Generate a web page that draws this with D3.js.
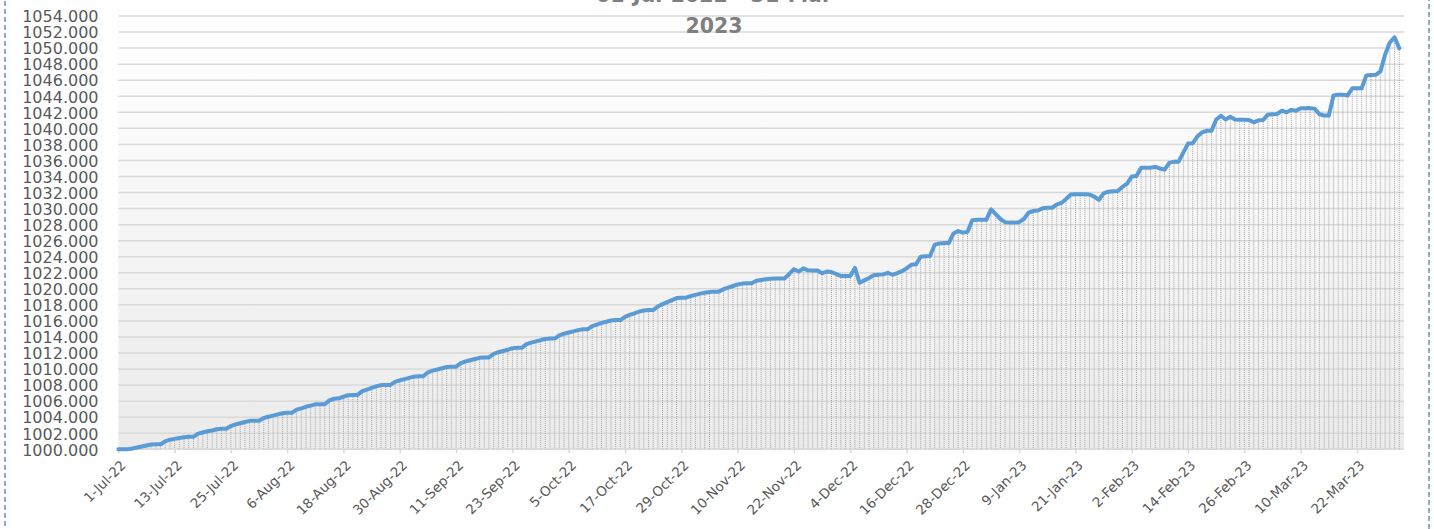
<!DOCTYPE html>
<html>
<head>
<meta charset="utf-8">
<script src="https://cdn.jsdelivr.net/npm/d3@7"></script>
<style>
  html, body { margin: 0; padding: 0; background: #ffffff; }
  svg { display: block; }
</style>
</head>
<body>
<svg id="chart" width="1434" height="529"></svg>
<script>
// ---------------- DATA ----------------
const titleLines = ["01-Jul-2022 - 31-Mar", "2023"];
const startDate = "1-Jul-22";   // first category, one value per day
const endDate = "31-Mar-23";
const tickLabels = ["1-Jul-22","13-Jul-22","25-Jul-22","6-Aug-22","18-Aug-22","30-Aug-22",
  "11-Sep-22","23-Sep-22","5-Oct-22","17-Oct-22","29-Oct-22","10-Nov-22","22-Nov-22",
  "4-Dec-22","16-Dec-22","28-Dec-22","9-Jan-23","21-Jan-23","2-Feb-23","14-Feb-23",
  "26-Feb-23","10-Mar-23","22-Mar-23"];
const yTicks = [1000,1002,1004,1006,1008,1010,1012,1014,1016,1018,1020,1022,1024,1026,
  1028,1030,1032,1034,1036,1038,1040,1042,1044,1046,1048,1050,1052,1054];
const values = [
  // Jul 2022
  1000.00,1000.00,1000.00,1000.10,1000.22,1000.35,1000.48,1000.60,1000.62,1000.62,
  1001.00,1001.20,1001.30,1001.40,1001.50,1001.55,1001.55,1001.95,1002.10,1002.25,
  1002.35,1002.50,1002.55,1002.55,1002.90,1003.10,1003.25,1003.40,1003.55,1003.55,
  1003.55,
  // Aug 2022
  1003.90,1004.05,1004.20,1004.35,1004.50,1004.55,1004.55,1004.95,1005.10,1005.30,
  1005.45,1005.60,1005.62,1005.62,1006.10,1006.30,1006.35,1006.55,1006.75,1006.78,
  1006.78,1007.25,1007.45,1007.65,1007.85,1008.00,1008.02,1008.02,1008.40,1008.60,
  1008.75,
  // Sep 2022
  1008.90,1009.05,1009.10,1009.10,1009.60,1009.80,1009.95,1010.10,1010.25,1010.30,
  1010.30,1010.75,1010.95,1011.10,1011.25,1011.40,1011.45,1011.45,1011.90,1012.10,
  1012.25,1012.40,1012.60,1012.65,1012.65,1013.10,1013.30,1013.45,1013.60,1013.75,
  // Oct 2022
  1013.80,1013.80,1014.20,1014.40,1014.55,1014.70,1014.85,1014.95,1014.95,1015.35,
  1015.55,1015.75,1015.90,1016.05,1016.10,1016.10,1016.50,1016.75,1016.95,1017.15,
  1017.30,1017.35,1017.35,1017.80,1018.10,1018.35,1018.60,1018.85,1018.90,1018.90,
  1019.10,
  // Nov 2022
  1019.25,1019.40,1019.50,1019.60,1019.65,1019.65,1019.95,1020.15,1020.35,1020.55,
  1020.65,1020.70,1020.70,1021.00,1021.10,1021.20,1021.25,1021.30,1021.30,1021.30,
  1021.85,1022.45,1022.15,1022.55,1022.30,1022.28,1022.28,1021.95,1022.15,1022.10,
  // Dec 2022
  1021.85,1021.60,1021.60,1021.60,1022.60,1020.75,1021.05,1021.35,1021.70,1021.75,
  1021.80,1022.00,1021.75,1021.95,1022.20,1022.55,1023.00,1023.05,1024.00,1024.05,
  1024.10,1025.50,1025.65,1025.70,1025.70,1026.90,1027.20,1027.00,1027.10,1028.55,
  1028.60,
  // Jan 2023
  1028.60,1028.60,1029.90,1029.30,1028.70,1028.30,1028.25,1028.25,1028.30,1028.70,
  1029.50,1029.70,1029.75,1030.05,1030.10,1030.10,1030.50,1030.70,1031.20,1031.75,
  1031.80,1031.80,1031.80,1031.75,1031.50,1031.10,1031.90,1032.10,1032.15,1032.20,
  1032.70,
  // Feb 2023
  1033.10,1034.00,1034.05,1035.10,1035.10,1035.10,1035.20,1035.00,1034.85,1035.70,
  1035.85,1035.85,1037.00,1038.10,1038.15,1039.00,1039.50,1039.70,1039.70,1041.10,
  1041.55,1041.10,1041.45,1041.10,1041.06,1041.06,1041.05,1040.75,
  // Mar 2023
  1041.00,1041.05,1041.70,1041.75,1041.80,1042.20,1042.00,1042.30,1042.20,1042.50,
  1042.50,1042.52,1042.45,1041.75,1041.60,1041.60,1044.10,1044.20,1044.20,1044.10,
  1045.00,1045.00,1045.00,1046.60,1046.65,1046.67,1047.10,1049.20,1050.70,1051.35,
  1050.00
];

// ---------------- CHART ----------------
const W = 1434, H = 529;
const m = { left: 118.3, right: W - 1403.9, top: 16, bottom: H - 449.3 };
const svg = d3.select("#chart");
const parse = d3.utcParse("%d-%b-%y");
const fmtX = d3.utcFormat("%-d-%b-%y");
const t0 = parse(startDate);
const dates = values.map((v, i) => d3.utcDay.offset(t0, i));
const data = dates.map((d, i) => ({ date: d, value: values[i] }));

const x = d3.scaleUtc()
  .domain([t0, d3.utcDay.offset(parse(endDate), 1)])
  .range([m.left, W - m.right]);
const y = d3.scaleLinear()
  .domain([1000, 1054])
  .range([H - m.bottom, m.top]);

const defs = svg.append("defs");
const grad = defs.append("linearGradient").attr("id", "bg")
  .attr("x1", 0).attr("y1", 0).attr("x2", 0).attr("y2", 1);
grad.append("stop").attr("offset", "0%").attr("stop-color", "#ffffff");
grad.append("stop").attr("offset", "100%").attr("stop-color", "#ebebeb");

// plot background
svg.append("rect")
  .attr("x", x.range()[0]).attr("y", y(1054))
  .attr("width", x.range()[1] - x.range()[0])
  .attr("height", y(1000) - y(1054))
  .attr("fill", "url(#bg)");

// horizontal gridlines
svg.append("g")
  .selectAll("line").data(yTicks).join("line")
  .attr("x1", x.range()[0]).attr("x2", x.range()[1])
  .attr("y1", d => y(d)).attr("y2", d => y(d))
  .attr("stroke", "#d9d9d9").attr("stroke-width", 1.5);

// drop lines
svg.append("g")
  .selectAll("line").data(data).join("line")
  .attr("x1", d => x(d.date)).attr("x2", d => x(d.date))
  .attr("y1", d => y(d.value)).attr("y2", y(1000))
  .attr("stroke", "#a6a6a6").attr("stroke-width", 1)
  .attr("stroke-dasharray", "1,1");

// y axis labels
const yAxis = d3.axisLeft(y).tickValues(yTicks).tickFormat(d3.format(".3f")).tickSize(0).tickPadding(0);
const gy = svg.append("g").attr("transform", `translate(98.5,0)`).call(yAxis);
gy.select(".domain").remove();
gy.selectAll("text")
  .attr("font-family", "DejaVu Sans, sans-serif")
  .attr("font-size", "16px")
  .attr("fill", "#595959")
  .attr("dy", "0.36em");

// x axis
const tickDates = tickLabels.map(parse);
const xAxis = d3.axisBottom(x).tickValues(tickDates).tickFormat(fmtX).tickSize(4).tickPadding(0);
const gx = svg.append("g").attr("transform", `translate(0,${y(1000)})`).call(xAxis);
gx.select(".domain").attr("stroke", "#d9d9d9").attr("stroke-width", 1.5)
  .attr("d", `M${x.range()[0]},0H${x.range()[1]}`);
gx.selectAll(".tick line").attr("stroke", "#d9d9d9").attr("stroke-width", 1.5);
gx.selectAll("text")
  .attr("font-family", "DejaVu Sans, sans-serif")
  .attr("font-size", "13.5px")
  .attr("fill", "#595959")
  .attr("text-anchor", "end")
  .attr("dy", "0")
  .attr("transform", "translate(5,14) rotate(-45)");

// line
svg.append("path")
  .datum(data)
  .attr("fill", "none")
  .attr("stroke", "#5b9bd5")
  .attr("stroke-width", 4)
  .attr("stroke-linejoin", "round")
  .attr("stroke-linecap", "round")
  .attr("d", d3.line().x(d => x(d.date)).y(d => y(d.value)));

// title
svg.append("g").selectAll("text").data(titleLines).join("text")
  .attr("x", 714).attr("y", (d, i) => 2 + i * 31)
  .attr("text-anchor", "middle")
  .attr("font-family", "DejaVu Sans, sans-serif")
  .attr("font-weight", "bold")
  .attr("font-size", "20.5px")
  .attr("fill", "#7f7f7f")
  .text(d => d);

// dashed chart border
svg.append("rect")
  .attr("x", 5).attr("y", -20).attr("width", 1424).attr("height", H + 40)
  .attr("fill", "none").attr("stroke", "#8eaadb").attr("stroke-width", 2)
  .attr("stroke-dasharray", "5,3");
</script>
</body>
</html>
